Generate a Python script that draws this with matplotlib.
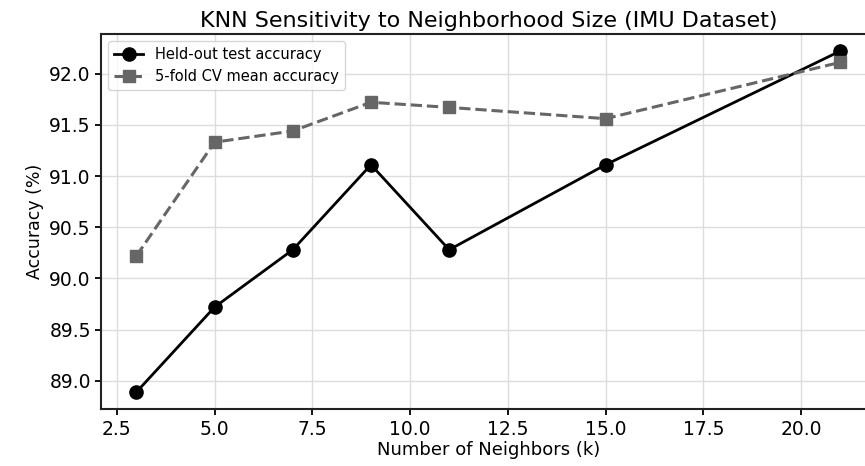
import numpy as np
import matplotlib.pyplot as plt

k_values = [3, 5, 7, 9, 11, 15, 21]
test_acc = [88.89, 89.72, 90.28, 91.11, 90.28, 91.11, 92.22]
cv_acc = [90.22, 91.33, 91.44, 91.72, 91.67, 91.56, 92.11]

fig = plt.figure(figsize=(8.65, 4.66), dpi=100)
ax = fig.add_axes([0.117, 0.122, 0.895, 0.805])

ax.plot(k_values, test_acc, color='black', linestyle='-', linewidth=2,
        marker='o', markersize=9.5, label='Held-out test accuracy')
ax.plot(k_values, cv_acc, color='#666666', linestyle='--', linewidth=2.2,
        marker='s', markersize=9, label='5-fold CV mean accuracy')

ax.set_title('KNN Sensitivity to Neighborhood Size (IMU Dataset)', fontsize=16, pad=5)
ax.set_xlabel('Number of Neighbors (k)', fontsize=13, labelpad=2)
ax.set_ylabel('Accuracy (%)', fontsize=12.5, labelpad=4)
ax.tick_params(labelsize=13.5, width=1.3, length=4)
ax.grid(True, color='#dddddd', linewidth=1)
ax.legend(loc='upper left', fontsize=10.5, borderaxespad=0.5)

for s in ax.spines.values():
    s.set_linewidth(1.5)
    s.set_color('#222222')

fig.savefig('out.png', dpi=100)
